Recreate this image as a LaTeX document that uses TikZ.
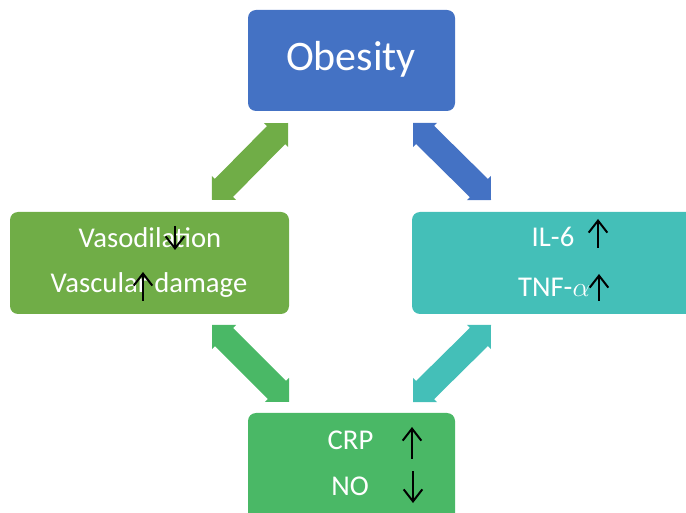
\documentclass[tikz,border=0pt]{standalone}
\usepackage{fontspec}
\setmainfont{Carlito}
\usetikzlibrary{calc,arrows.meta}
\definecolor{cblue}{HTML}{4472C4}
\definecolor{cgreen}{HTML}{70AD47}
\definecolor{cteal}{HTML}{44BFB8}
\definecolor{cgreenb}{HTML}{4AB866}
\newcommand{\hl}{12.75pt}
\newcommand{\hw}{12.75pt}
\newcommand{\sw}{9.6pt}
\newcommand{\blockarrow}[3]{%
  \fill[#1] (#2) -- ($(#2)!\hl!(#3)!\hw!90:(#3)$) -- ($(#2)!\hl!(#3)!\sw!90:(#3)$)
   -- ($(#3)!\hl!(#2)!\sw!-90:(#2)$) -- ($(#3)!\hl!(#2)!\hw!-90:(#2)$) -- (#3)
   -- ($(#3)!\hl!(#2)!\hw!90:(#2)$) -- ($(#3)!\hl!(#2)!\sw!90:(#2)$)
   -- ($(#2)!\hl!(#3)!\sw!-90:(#3)$) -- ($(#2)!\hl!(#3)!\hw!-90:(#3)$) -- cycle;}
\begin{document}
\begin{tikzpicture}[x=0.75pt,y=-0.75pt,
  box/.style={rounded corners=6pt, inner sep=0pt, outer sep=0pt},
  lbl/.style={text=white, anchor=base, inner sep=0pt, font=\fontsize{21.5}{25}\selectfont},
  updown/.style={black, line width=1.5pt, -{Straight Barb[length=9pt,width=14pt]}}]
\useasboundingbox (0,0) rectangle (686,513);
\clip (0,0) rectangle (686,513);
% boxes
\node[box, fill=cblue, minimum width=155.25pt, minimum height=75.75pt] (ob) at (351.5,60.5) {};
\node[box, fill=cgreen, minimum width=209.25pt, minimum height=76.5pt] (vas) at (149.5,263) {};
\node[box, fill=cteal, minimum width=216pt, minimum height=76.5pt] (il) at (556,263) {};
\node[box, fill=cgreenb, minimum width=155.25pt, minimum height=84pt] (crp) at (351.5,469) {};
% texts
\node[lbl, font=\fontsize{31.5}{36}\selectfont] (tob) at (351,71) {Obesity};
\node[lbl] (t1) at (150,248) {Vasodilation};
\node[lbl] (t2) at (149,293) {Vascular damage};
\node[lbl] (t3) at (553,247) {IL-6};
\node[lbl] (t4) at (554,297) {TNF-$\alpha$};
\node[lbl] (t5) at (350.5,450) {CRP};
\node[lbl] (t6) at (350,495) {NO};
% small up/down marks
\draw[updown] (175,226) -- (175,250);
\draw[updown] (143,301) -- (143,272);
\draw[updown] (598,248) -- (598,219);
\draw[updown] (599,301) -- (599,274);
\draw[updown] (412,459) -- (412,427);
\draw[updown] (413,471) -- (413,503);
% block double arrows
\coordinate (a1) at (288,123); \coordinate (a2) at (212,200);
\coordinate (b1) at (413,123); \coordinate (b2) at (491,200);
\coordinate (c1) at (212,325); \coordinate (c2) at (289,402);
\coordinate (d1) at (491,325); \coordinate (d2) at (413,402);
\blockarrow{cgreen}{a1}{a2}
\blockarrow{cblue}{b1}{b2}
\blockarrow{cgreenb}{c1}{c2}
\blockarrow{cteal}{d1}{d2}
\end{tikzpicture}
\end{document}
